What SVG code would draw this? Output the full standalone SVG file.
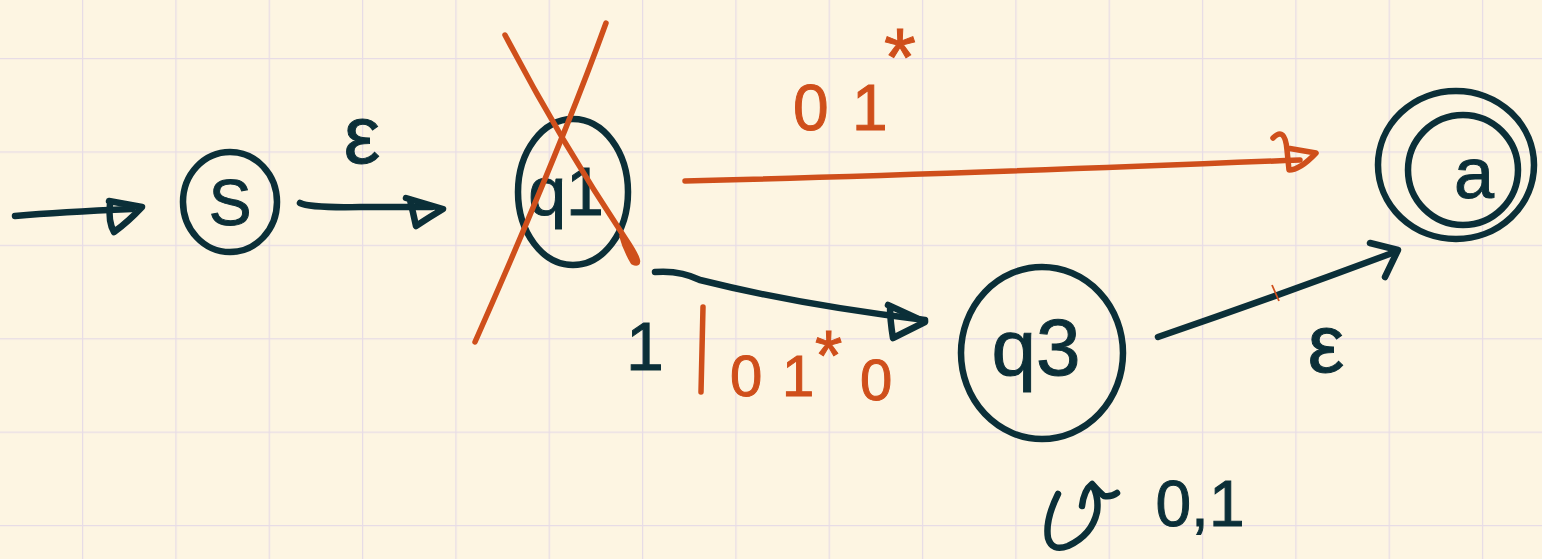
<svg xmlns="http://www.w3.org/2000/svg" width="1542" height="559" viewBox="0 0 1542 559">
  <defs>
    <pattern id="grid" patternUnits="userSpaceOnUse" x="82" y="58" width="93.33" height="93.4">
      <path d="M0,0 H93.33 M0,0 V93.4" fill="none" stroke="#E7DCE6" stroke-width="2.5"/>
    </pattern>
    <style>
      .ink { fill: none; stroke: #0B2F38; stroke-width: 6.5; stroke-linecap: round; stroke-linejoin: round; }
      .org { fill: none; stroke: #CF4F1B; stroke-width: 5.5; stroke-linecap: round; stroke-linejoin: round; }
      .t { font-family: "Liberation Sans", "DejaVu Sans", sans-serif; fill: #0B2F38; stroke: #0B2F38; stroke-width: 1; text-anchor: middle; }
      .to { font-family: "Liberation Sans", "DejaVu Sans", sans-serif; fill: #CF4F1B; stroke: #CF4F1B; stroke-width: 1; }
    </style>
  </defs>
  <rect width="1542" height="559" fill="#FDF5E2"/>
  <rect width="1542" height="559" fill="url(#grid)"/>

  <g id="connectors">
    <g id="start-arrow">
      <path class="ink" d="M15,216 Q60,212 132,209"/>
      <path class="ink" d="M109,201 L142,207 Q128,222 114,232 Q108,222 110,203"/>
    </g>
    <g id="s-q1">
      <path class="ink" d="M300,203 Q310,208 360,207 L432,207"/>
      <path class="ink" d="M406,198 L443,209 Q428,218 416,226 Q413,212 410,200"/>
      <text class="t" x="362" y="163" font-size="82">ε</text>
    </g>
    <g id="q1-a">
      <path class="org" d="M685,181 Q900,176 1300,160"/>
      <path class="org" d="M1273,138 Q1285,126 1287,150 L1289,170 Q1300,170 1316,153 L1287,148"/>
      <text class="to" x="793" y="130" font-size="64">0<tspan x="852">1</tspan><tspan x="884" dy="-45" font-size="82">*</tspan></text>
    </g>
    <g id="q1-q3">
      <path class="ink" d="M655,272 Q680,270 700,280 Q800,305 925,320"/>
      <path class="ink" d="M888,305 L925,322 L893,338 Q890,320 890,306"/>
      <text class="t" x="645" y="370" font-size="68">1</text>
      <path class="org" d="M703,307 L701,392"/>
      <text class="to" x="730" y="396" font-size="58">0<tspan x="782">1</tspan><tspan x="815" dy="-16" font-size="70">*</tspan><tspan x="860" dy="20" font-size="58">0</tspan></text>
    </g>
    <g id="q3-a">
      <path class="ink" d="M1158,337 Q1280,295 1395,252"/>
      <path class="ink" d="M1370,243 L1398,250 L1385,277"/>
      <path d="M1272,285 L1279,301" fill="none" stroke="#CF4F1B" stroke-width="1.8"/>
      <text class="t" x="1326" y="372" font-size="82">ε</text>
    </g>
    <g id="q3-loop">
      <path class="ink" d="M1058,494 Q1045,520 1048,538 Q1052,552 1068,546 Q1092,535 1097,512 Q1099,498 1093,486"/>
      <path class="ink" d="M1082,506 Q1084,490 1092,484 Q1100,493 1104,496 Q1112,497 1117,493"/>
      <text class="t" x="1200" y="526" font-size="64">0,1</text>
    </g>
  </g>

  <g id="node-s">
    <ellipse class="ink" cx="230" cy="202" rx="47" ry="50"/>
    <text class="t" x="230" y="225" font-size="64">S</text>
  </g>
  <g id="node-q1">
    <ellipse class="ink" cx="573" cy="192" rx="55" ry="73"/>
    <text class="t" x="566" y="215" font-size="68">q1</text>
    <path class="org" d="M505,35 Q560,140 625,238 Q645,268 633,262 Q625,248 622,236"/>
    <path class="org" d="M606,23 Q560,150 475,342"/>
  </g>
  <g id="node-q3">
    <ellipse class="ink" cx="1042" cy="353" rx="81" ry="86"/>
    <text class="t" x="1036" y="375" font-size="80">q3</text>
  </g>
  <g id="node-a">
    <ellipse class="ink" cx="1456" cy="165" rx="78" ry="74"/>
    <circle class="ink" cx="1463" cy="170" r="55"/>
    <text class="t" x="1474" y="198" font-size="72">a</text>
  </g>
</svg>
